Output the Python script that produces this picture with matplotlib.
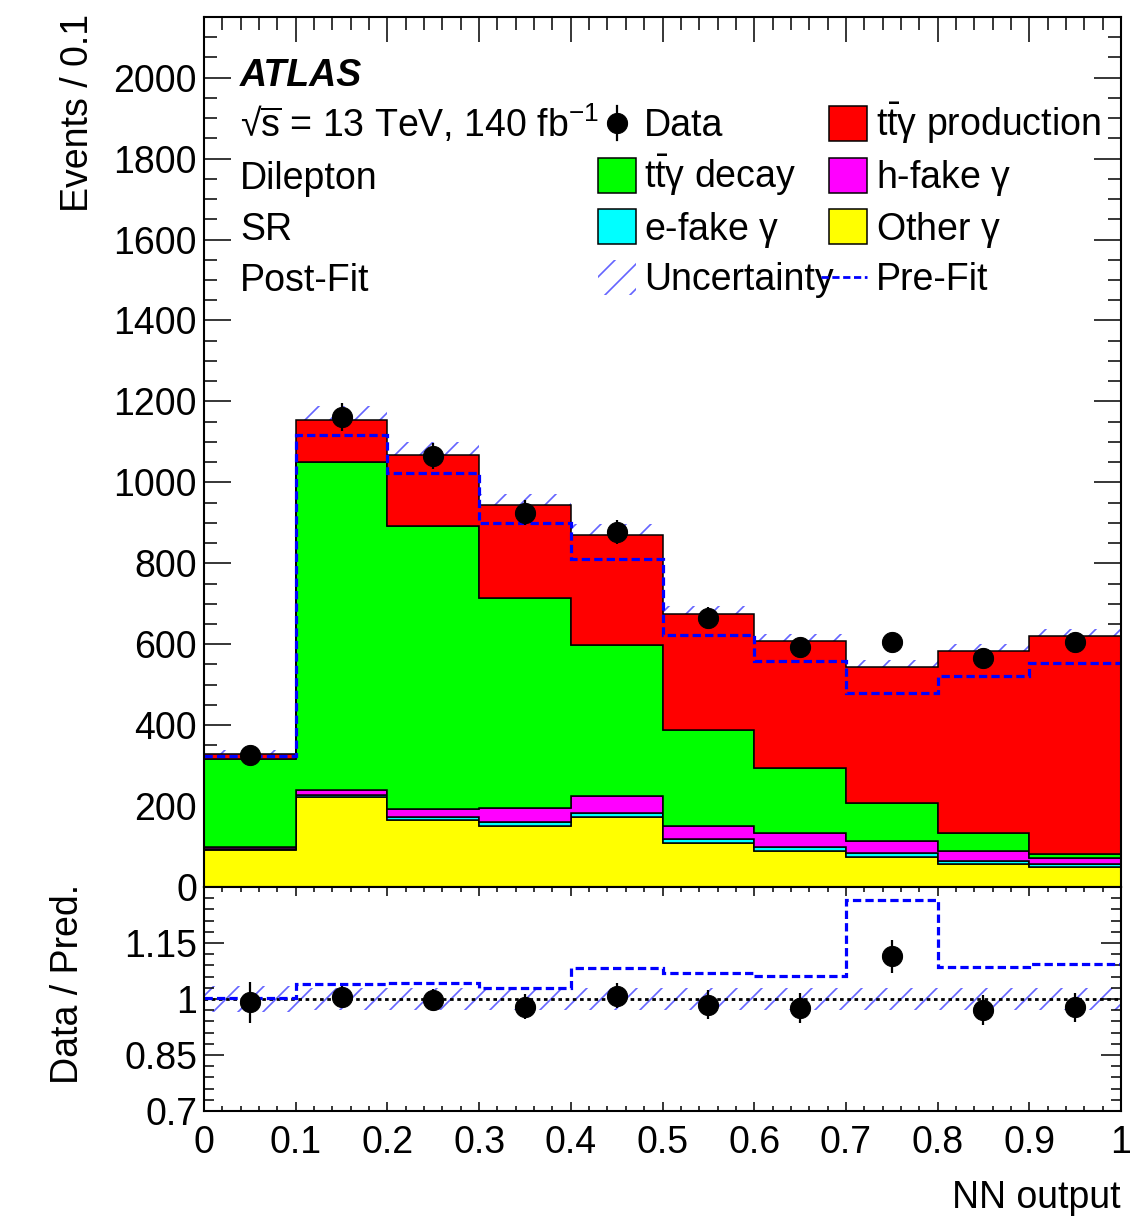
import matplotlib
matplotlib.use('Agg')
import matplotlib.pyplot as plt
from matplotlib.patches import Rectangle
from matplotlib.ticker import MultipleLocator, FixedLocator, FixedFormatter
import numpy as np

# drawn at 75 dpi so the hatch cell (one inch) gives ROOT-like line spacing;
# K converts the sizes I picked for 100 dpi
DPI = 75
K = 100 / DPI

plt.rcParams['font.family'] = ['Liberation Sans', 'DejaVu Sans']
plt.rcParams['mathtext.fontset'] = 'custom'
plt.rcParams['mathtext.rm'] = 'Liberation Sans'
plt.rcParams['mathtext.it'] = 'Liberation Sans:italic'
plt.rcParams['mathtext.bf'] = 'Liberation Sans:bold'
plt.rcParams['hatch.linewidth'] = 1.2 * K

# NN output bins
edges = [0.0, 0.1, 0.2, 0.3, 0.4, 0.5, 0.6, 0.7, 0.8, 0.9, 1.0]

# post-fit stack components (bottom to top)
other_gamma = [92, 222, 166, 150, 172, 108, 90, 74, 58, 50]
efake_gamma = [2, 5, 6, 10, 10, 10, 9, 10, 6, 7]
hfake_gamma = [6, 13, 21, 35, 43, 33, 34, 30, 25, 15]
ttg_decay = [216, 811, 699, 519, 373, 237, 161, 94, 45, 10]
ttg_prod = [12, 104, 176, 230, 272, 287, 314, 336, 449, 538]

data = [325, 1162, 1065, 925, 878, 665, 593, 606, 566, 606]
prefit = [324, 1118, 1022, 899, 811, 622, 558, 479, 521, 554]
unc_rel = [0.035, 0.03, 0.03, 0.03, 0.03, 0.03, 0.03, 0.03, 0.03, 0.03]

stack = [
    (other_gamma, '#ffff00'),
    (efake_gamma, '#00ffff'),
    (hfake_gamma, '#ff00ff'),
    (ttg_decay, '#00ff00'),
    (ttg_prod, '#ff0000'),
]

edges = np.array(edges)
centers = 0.5 * (edges[1:] + edges[:-1])
data = np.array(data, dtype=float)
prefit = np.array(prefit, dtype=float)
unc_rel = np.array(unc_rel)

W, H = 1147, 1222
fig = plt.figure(figsize=(W / DPI, H / DPI), dpi=DPI)
L, R = 204, 1121
ax = fig.add_axes([L / W, 1 - 887 / H, (R - L) / W, (887 - 17) / H])
rax = fig.add_axes([L / W, 1 - 1111 / H, (R - L) / W, (1111 - 887) / H])

hatch_col = '#6464ff'
FS = 27 * K
MS = 14.5 * K
EW = 1.6 * K
dash = (0, (2.6, 1.3))

# ---- main panel
total = np.zeros(len(centers))
for vals, col in stack:
    total = total + np.array(vals)

ax.stairs(total * (1 + unc_rel), edges, baseline=total * (1 - unc_rel), fill=True,
          facecolor='none', edgecolor=hatch_col, hatch='/', linewidth=0, zorder=1)

bottom = np.zeros(len(centers))
for i, (vals, col) in enumerate(stack):
    top = bottom + np.array(vals)
    ax.stairs(top, edges, baseline=bottom, fill=True, facecolor=col,
              edgecolor='black', linewidth=1.1 * K, zorder=2 + i)
    bottom = top

ax.stairs(prefit, edges, baseline=None, color='#0000ff', linewidth=2.3 * K,
          linestyle=dash, zorder=9)
ax.errorbar(centers, data, yerr=np.sqrt(data), fmt='o', color='black', markersize=MS,
            elinewidth=EW, capsize=0, zorder=10)

ax.set_xlim(0, 1)
ax.set_ylim(0, 2150)
ax.xaxis.set_major_locator(MultipleLocator(0.1))
ax.xaxis.set_minor_locator(MultipleLocator(0.02))
ax.yaxis.set_major_locator(MultipleLocator(200))
ax.yaxis.set_minor_locator(MultipleLocator(50))
ax.tick_params(which='both', direction='in', top=True, right=True, width=1.1 * K,
               labelsize=FS, labelbottom=False)
ax.tick_params(axis='y', which='major', length=19.5 * K, pad=5 * K)
ax.tick_params(axis='y', which='minor', length=9.5 * K)
ax.tick_params(axis='x', which='major', length=18 * K)
ax.tick_params(axis='x', which='minor', length=9.5 * K)
for s in ax.spines.values():
    s.set_linewidth(1.5 * K)
    s.set_zorder(20)


def axp(px, py):
    return ((px - L) / (R - L), (887 - py) / (887 - 17))


# left text block
ax.text(*axp(240, 86), 'ATLAS', transform=ax.transAxes, fontsize=FS,
        fontweight='bold', fontstyle='italic', va='baseline', ha='left', zorder=30)
info = ['\u221a$\\overline{\\mathrm{s}}$ = 13 TeV, 140 fb$^{\\mathrm{-1}}$',
        'Dilepton', 'SR', 'Post-Fit']
baselines = [137, 189, 240, 291]
for txt, yb in zip(info, baselines):
    ax.text(*axp(240, yb), txt, transform=ax.transAxes, fontsize=FS,
            va='baseline', ha='left', zorder=30)

# legend, drawn by hand to keep the ROOT layout
box_w, box_h = 38, 35
row_c = [123, 175, 226, 277]
col_box = [598, 829]
col_txt = [644, 876]
entries = [
    (0, 0, 'data', 'Data'),
    (1, 0, '#ff0000', r'$\mathrm{t\bar{t}\gamma}$ production'),
    (0, 1, '#00ff00', r'$\mathrm{t\bar{t}\gamma}$ decay'),
    (1, 1, '#ff00ff', r'h-fake $\mathrm{\gamma}$'),
    (0, 2, '#00ffff', r'e-fake $\mathrm{\gamma}$'),
    (1, 2, '#ffff00', r'Other $\mathrm{\gamma}$'),
    (0, 3, 'unc', 'Uncertainty'),
    (1, 3, 'prefit', 'Pre-Fit'),
]
for c, r, kind, label in entries:
    x0 = col_box[c]
    yc = row_c[r]
    if kind == 'data':
        ax.plot(*axp(x0 + box_w / 2, yc), 'o', color='black', markersize=MS,
                transform=ax.transAxes, clip_on=False, zorder=30)
        ax.plot([axp(x0 + box_w / 2, 0)[0]] * 2, [axp(0, yc - 17)[1], axp(0, yc + 17)[1]],
                color='black', lw=EW, transform=ax.transAxes, zorder=30)
    elif kind == 'unc':
        xa, ya = axp(x0, yc + box_h / 2)
        ax.add_patch(Rectangle((xa, ya), box_w / (R - L), box_h / 870, transform=ax.transAxes,
                               facecolor='none', edgecolor=hatch_col, hatch='/', lw=0, zorder=30))
    elif kind == 'prefit':
        ax.plot([axp(x0 - 8, 0)[0], axp(x0 + box_w, 0)[0]], [axp(0, yc)[1]] * 2,
                color='#0000ff', lw=2.0 * K, linestyle=dash,
                transform=ax.transAxes, zorder=30)
    else:
        xa, ya = axp(x0, yc + box_h / 2)
        ax.add_patch(Rectangle((xa, ya), box_w / (R - L), box_h / 870, transform=ax.transAxes,
                               facecolor=kind, edgecolor='black', lw=1.1 * K, zorder=30))
    ax.text(*axp(col_txt[c], yc + 13.5), label, transform=ax.transAxes, fontsize=FS,
            va='baseline', ha='left', zorder=30)

# ---- ratio panel
ratio = data / total
ratio_err = np.sqrt(data) / total
ratio_pre = data / prefit

rax.stairs(1 + unc_rel, edges, baseline=1 - unc_rel, fill=True, facecolor='none',
           edgecolor=hatch_col, hatch='/', linewidth=0, zorder=1)
rax.axhline(1, color='black', lw=2.0 * K, linestyle=(0, (1.3, 1.3)), zorder=2)
rax.stairs(ratio_pre, edges, baseline=None, color='#0000ff', linewidth=2.3 * K,
           linestyle=dash, zorder=3)
rax.errorbar(centers, ratio, yerr=ratio_err, fmt='o', color='black', markersize=MS,
             elinewidth=EW, capsize=0, zorder=10)

rax.set_xlim(0, 1)
rax.set_ylim(0.7, 1.3)
rax.xaxis.set_major_locator(MultipleLocator(0.1))
rax.xaxis.set_minor_locator(MultipleLocator(0.02))
rax.xaxis.set_major_formatter(matplotlib.ticker.FuncFormatter(lambda v, p: '%g' % round(v, 2)))
rax.yaxis.set_major_locator(FixedLocator([0.7, 0.85, 1.0, 1.15]))
rax.yaxis.set_major_formatter(FixedFormatter(['0.7', '0.85', '1', '1.15']))
rax.yaxis.set_minor_locator(FixedLocator(np.round(np.arange(0.7, 1.3001, 0.03), 3)))
rax.tick_params(which='both', direction='in', top=True, right=True, width=1.1 * K, labelsize=FS)
rax.tick_params(axis='y', which='major', length=14.5 * K, pad=5 * K)
rax.tick_params(axis='y', which='minor', length=7.2 * K)
rax.tick_params(axis='x', which='major', length=6.5 * K, pad=10 * K)
rax.tick_params(axis='x', which='minor', length=3.6 * K)
for s in rax.spines.values():
    s.set_linewidth(1.5 * K)
    s.set_zorder(20)

fig.text(78 / W, 1 - 14 / H, 'Events / 0.1', rotation=90, ha='center', va='top', fontsize=FS)
fig.text(68 / W, 1 - 984 / H, 'Data / Pred.', rotation=90, ha='center', va='center', fontsize=FS)
fig.text(R / W, 1 - 1208 / H, 'NN output', ha='right', va='baseline', fontsize=FS)

fig.savefig('out.png', dpi=DPI)
